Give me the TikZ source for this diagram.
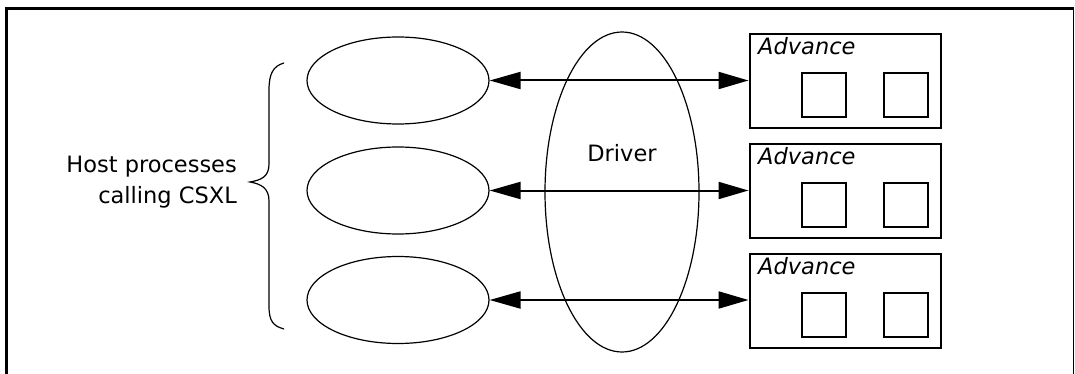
\documentclass[tikz,border=0pt]{standalone}
\usepackage{fontspec}
\setmainfont{DejaVu Sans}
\usetikzlibrary{shapes.geometric,arrows.meta}

\tikzset{
  lbl/.style={font=\fontsize{22.5}{31}\selectfont, inner sep=0pt},
  proc/.style={draw, ellipse, line width=1.2pt, inner sep=0pt,
               minimum width=182pt, minimum height=87pt},
  drv/.style={draw, ellipse, line width=1.2pt, inner sep=0pt,
              minimum width=154pt, minimum height=320pt},
  advbox/.style={draw, line width=2pt, inner sep=0pt,
                 minimum width=191pt, minimum height=94pt},
  unit/.style={draw, line width=2pt, inner sep=0pt,
               minimum width=44pt, minimum height=44pt},
  link/.style={line width=2pt, {Triangle[length=31pt,width=17pt]}-{Triangle[length=30pt,width=17pt]}},
  frame/.style={line width=3pt},
}

\begin{document}
\begin{tikzpicture}[x=1pt, y=-1pt]
  \useasboundingbox (0,0) rectangle (1075,374);

  % outer frame (open at the bottom)
  \draw[frame] (6,374) -- (6,8.5) -- (1074,8.5);
  \draw[line width=1pt] (1073.5,8.5) -- (1073.5,374);

  % driver
  \node[drv] (driver) at (622,192) {};
  \node[lbl, anchor=base] (drvtxt) at (622,162) {Driver};

  % host processes
  \node[proc] (h1) at (398,80.5) {};
  \node[proc] (h2) at (398,190.5) {};
  \node[proc] (h3) at (398,300) {};

  % brace and its caption
  \draw[line width=1.2pt]
    (284,63) .. controls (273,66) and (269,74) .. (269,90)
    -- (269,164) .. controls (269,177) and (261,180) .. (250,182)
    .. controls (261,184) and (269,188) .. (269,201)
    -- (269,306) .. controls (269,321) and (273,326) .. (284,329);
  \node[lbl, anchor=base east, align=right] (host) at (237,204)
    {Host processes\\calling CSXL};

  % Advance boards, each with two units
  \foreach \i/\y in {1/81.5, 2/191, 3/301} {
    \node[advbox] (b\i) at (845,\y) {};
    \node[lbl, anchor=base west] (t\i) at (758,\y-26.5) {\itshape Advance};
    \node[unit] (u\i a) at (824,\y+14) {};
    \node[unit] (u\i b) at (906,\y+14) {};
  }

  % links from host processes to boards
  \draw[link] (h1.east) -- (h1.east -| b1.west);
  \draw[link] (h2.east) -- (h2.east -| b2.west);
  \draw[link] (h3.east) -- (h3.east -| b3.west);
\end{tikzpicture}
\end{document}
